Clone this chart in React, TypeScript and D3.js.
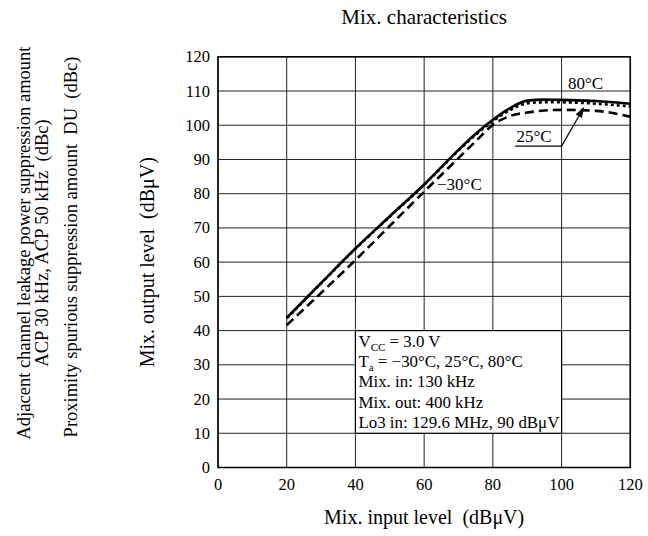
import React from "react";
import * as d3 from "d3";

// input level (dBuV)
const inputLevels = [20, 30, 40, 50, 60, 70, 75, 80, 85, 90, 95, 100, 110, 120];
// output level (dBuV) per temperature
const out80 = [43.7, 53.9, 64.0, 73.4, 82.7, 92.8, 97.5, 101.6, 105.0, 107.2, 107.5, 107.4, 107.1, 106.3];
const out25 = [43.6, 53.8, 63.9, 73.3, 82.6, 92.6, 97.2, 101.2, 104.4, 106.4, 106.7, 106.7, 106.3, 105.5];
const outM30 = [41.6, 51.0, 60.6, 70.6, 80.6, 90.4, 95.3, 100.1, 102.7, 103.7, 104.3, 104.5, 104.2, 102.5];

const xTicks = [0, 20, 40, 60, 80, 100, 120];
const yTicks = [0, 10, 20, 30, 40, 50, 60, 70, 80, 90, 100, 110, 120];

const conditions = [
  ["V", "CC", " = 3.0 V"],
  ["T", "a", " = \u221230\u00b0C, 25\u00b0C, 80\u00b0C"],
  ["Mix. in: 130 kHz", "", ""],
  ["Mix. out: 400 kHz", "", ""],
  ["Lo3 in: 129.6 MHz, 90 dB\u03bcV", "", ""],
];

const font = "'Liberation Serif', 'Times New Roman', serif";

export default function App() {
  const width = 648;
  const height = 536;
  const left = 218, right = 630.3, top = 56.8, bottom = 467.5;

  const x = d3.scaleLinear().domain([0, 120]).range([left, right]);
  const y = d3.scaleLinear().domain([0, 120]).range([bottom, top]);

  const line = (vals: number[]) =>
    d3.line<number>()
      .x((_, i) => x(inputLevels[i]))
      .y(d => y(d))
      .curve(d3.curveMonotoneX)(vals) || "";

  // annotation anchor points in data units
  const underline = { x0: 86.5, x1: 100, y: 93.9 };
  const arrowTip = { x: 106.6, y: 105.4 };

  const ux0 = x(underline.x0), ux1 = x(underline.x1), uy = y(underline.y);
  const tx = x(arrowTip.x), ty = y(arrowTip.y);
  const ang = Math.atan2(ty - uy, tx - ux1);
  const ah = 11, aw = 3.5;
  const bx = tx - ah * Math.cos(ang), by = ty - ah * Math.sin(ang);
  const head = `M${tx},${ty} L${bx - aw * Math.sin(ang)},${by + aw * Math.cos(ang)} L${bx + aw * Math.sin(ang)},${by - aw * Math.cos(ang)} Z`;

  const boxX0 = x(40), boxX1 = x(100), boxY0 = y(40), boxY1 = y(10);

  return (
    <svg width={width} height={height} style={{ position: "absolute", left: 0, top: 0, background: "#fff" }}
      fontFamily={font}>
      <text x={(left + right) / 2} y={24} textAnchor="middle" fontSize={21}>Mix. characteristics</text>

      {/* grid */}
      {xTicks.map(t => (
        <line key={"gx" + t} x1={x(t)} x2={x(t)} y1={top} y2={bottom} stroke="#222" strokeWidth={1} />
      ))}
      {yTicks.map(t => (
        <line key={"gy" + t} x1={left} x2={right} y1={y(t)} y2={y(t)} stroke="#222" strokeWidth={1} />
      ))}
      <rect x={left} y={top} width={right - left} height={bottom - top} fill="none" stroke="#000" strokeWidth={1.5} />

      {/* tick labels */}
      {yTicks.map(t => (
        <text key={"ly" + t} x={left - 8} y={y(t) + 5.5} textAnchor="end" fontSize={16.5}>{t}</text>
      ))}
      {xTicks.map(t => (
        <text key={"lx" + t} x={x(t)} y={bottom + 22} textAnchor="middle" fontSize={16.5}>{t}</text>
      ))}

      {/* conditions box */}
      <rect x={boxX0} y={boxY0} width={boxX1 - boxX0} height={boxY1 - boxY0} fill="#fff" stroke="#000" strokeWidth={1.2} />
      {conditions.map((c, i) => (
        <text key={"c" + i} x={boxX0 + 3} y={boxY0 + 16 + i * 20.4} fontSize={16.9}>
          {c[0]}
          {c[1] && <tspan fontSize={11} dy={4}>{c[1]}</tspan>}
          {c[1] && <tspan dy={-4}>{c[2]}</tspan>}
        </text>
      ))}

      {/* curves */}
      <path d={line(outM30)} fill="none" stroke="#000" strokeWidth={2.6} strokeDasharray="9,5" />
      <path d={line(out25)} fill="none" stroke="#000" strokeWidth={2.6} strokeDasharray="3,3" />
      <path d={line(out80)} fill="none" stroke="#000" strokeWidth={2.6} />

      {/* annotations */}
      <text x={568} y={89} fontSize={17}>80°C</text>
      <text x={516.5} y={141.5} fontSize={17}>25°C</text>
      <text x={437} y={189.5} fontSize={17}>{"\u221230\u00b0C"}</text>
      <path d={`M${ux0},${uy} L${ux1},${uy} L${bx},${by}`} fill="none" stroke="#000" strokeWidth={1.2} />
      <path d={head} fill="#000" />

      {/* axis titles */}
      <text x={(left + right) / 2} y={524} textAnchor="middle" fontSize={20} xmlSpace="preserve">Mix. input level  (dBμV)</text>
      <text transform={`translate(154,${y(60)}) rotate(-90)`} textAnchor="middle" fontSize={20} xmlSpace="preserve">Mix. output level  (dBμV)</text>
      <text transform="translate(29.5,243) rotate(-90)" textAnchor="middle" fontSize={18.5}>Adjacent channel leakage power suppression amount</text>
      <text transform="translate(48,243) rotate(-90)" textAnchor="middle" fontSize={18.5} xmlSpace="preserve">ACP 30 kHz, ACP 50 kHz  (dBc)</text>
      <text transform="translate(77,247) rotate(-90)" textAnchor="middle" fontSize={18.5} xmlSpace="preserve">Proximity spurious suppression amount  DU  (dBc)</text>
    </svg>
  );
}
